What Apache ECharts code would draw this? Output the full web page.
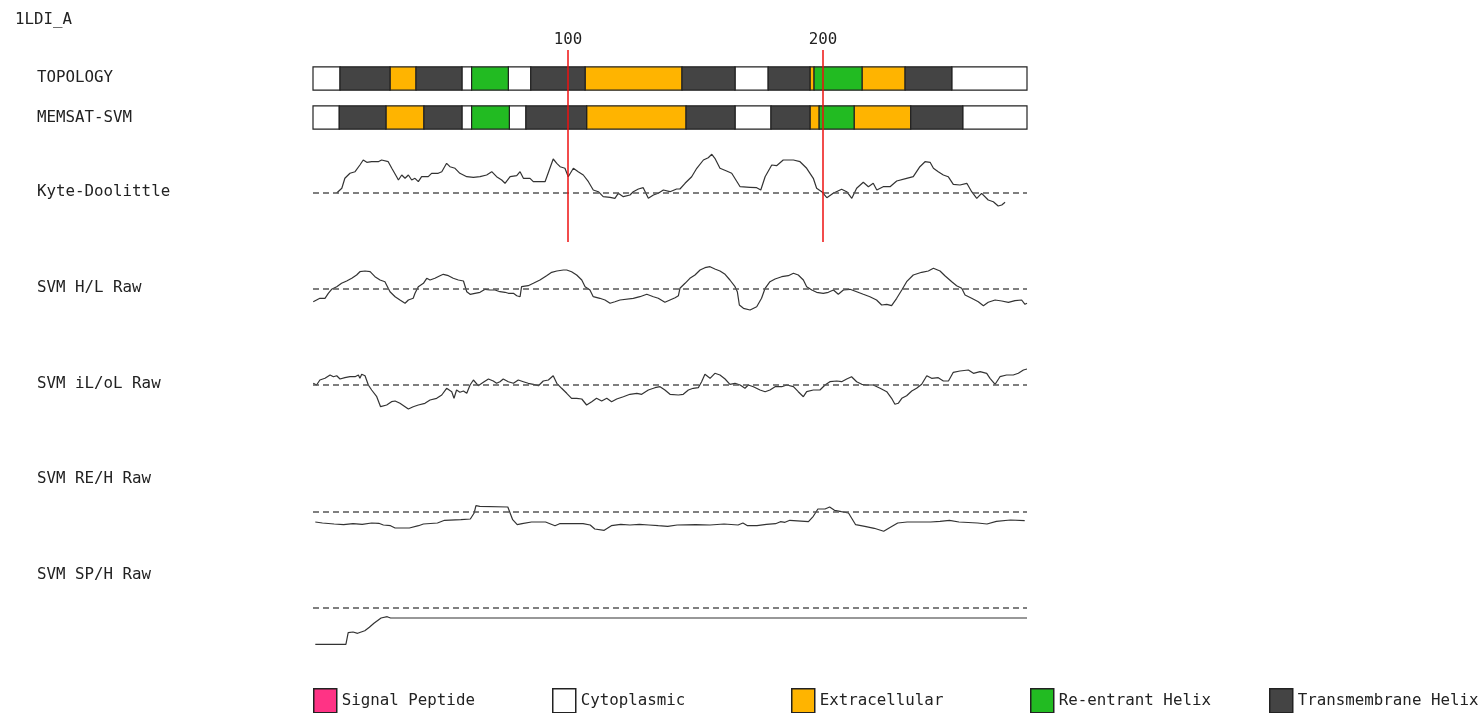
<!DOCTYPE html>
<html>
<head>
<meta charset="utf-8">
<script src="https://cdn.jsdelivr.net/npm/echarts@6/dist/echarts.min.js"></script>
<style>
  html, body { margin: 0; padding: 0; background: #fff; }
  #chart { width: 1484px; height: 713px; }
</style>
</head>
<body>
<div id="chart"></div>
<script>
const chainName = '1LDI_A'
const seqLength = 280
const rulerTicks = [100, 200]
const rowNames = ['TOPOLOGY', 'MEMSAT-SVM']
const trackNames = ['Kyte-Doolittle', 'SVM H/L Raw', 'SVM iL/oL Raw', 'SVM RE/H Raw', 'SVM SP/H Raw']

// segment classes: S signal peptide, C cytoplasmic, E extracellular, R re-entrant, T transmembrane
const classNames = {S: 'Signal Peptide', C: 'Cytoplasmic', E: 'Extracellular', R: 'Re-entrant Helix', T: 'Transmembrane Helix'}
const classColors = {S: '#ff3385', C: '#ffffff', E: '#ffb400', R: '#22bb22', T: '#444444'}

// [start, end, class]
const topology = [
  [0, 10.6, 'C'], [10.6, 30.2, 'T'], [30.2, 40.4, 'E'], [40.4, 58.4, 'T'], [58.4, 62.2, 'C'],
  [62.2, 76.6, 'R'], [76.6, 85.4, 'C'], [85.4, 106.7, 'T'], [106.7, 144.7, 'E'], [144.7, 165.5, 'T'],
  [165.5, 178.5, 'C'], [178.5, 194.9, 'T'], [194.9, 196.5, 'E'], [196.5, 215.3, 'R'], [215.3, 232.2, 'E'],
  [232.2, 250.5, 'T'], [250.5, 280, 'C']
]
const memsat = [
  [0, 10.3, 'C'], [10.3, 28.6, 'T'], [28.6, 43.5, 'E'], [43.5, 58.4, 'T'], [58.4, 62.2, 'C'],
  [62.2, 77, 'R'], [77, 83.5, 'C'], [83.5, 107.3, 'T'], [107.3, 146.3, 'E'], [146.3, 165.5, 'T'],
  [165.5, 179.6, 'C'], [179.6, 194.9, 'T'], [194.9, 198.5, 'E'], [198.5, 212.2, 'R'], [212.2, 234.4, 'E'],
  [234.4, 254.8, 'T'], [254.8, 280, 'C']
]

// [residue, score]
const kyteDoolittle = [
  [9.3,0],[11.3,0.47],[12.5,1.47],[14.5,1.97],[16.5,2.13],[18.4,2.8],[19.7,3.3],[21.1,3.07],[23,3.13],[25.6,3.13],
  [26.9,3.3],[29.5,3.13],[30.9,2.47],[32.8,1.63],[33.5,1.3],[34.8,1.8],[36.1,1.47],[37.4,1.8],[38.7,1.3],[40,1.47],
  [41.3,1.13],[42.6,1.63],[45.2,1.63],[46.5,1.97],[49.1,1.97],[50.5,2.13],[52.4,2.97],[53.7,2.63],[55.7,2.47],[57.6,1.97],
  [60.3,1.63],[62.9,1.57],[65.5,1.63],[68.1,1.8],[70.1,2.13],[72,1.63],[74,1.3],[75.3,0.97],[77.3,1.63],[79.9,1.73],
  [81.2,2.13],[82.5,1.47],[85.1,1.47],[86.4,1.13],[89,1.13],[91,1.13],[92.9,2.47],[94.2,3.4],[95.6,2.97],[96.9,2.63],
  [98.8,2.47],[100.1,1.63],[102.1,2.47],[104,2.13],[106,1.8],[108,1.13],[109.9,0.3],[111.9,0.13],[113.8,-0.37],[116.5,-0.43],
  [118.4,-0.53],[119.7,-0.03],[121.7,-0.37],[124.3,-0.2],[125.6,0.13],[127.6,0.4],[129.5,0.53],[131.5,-0.53],[133.5,-0.2],[135.4,-0.03],
  [137.4,0.3],[140,0.13],[142.6,0.4],[143.9,0.4],[145.9,0.97],[148.5,1.63],[150.5,2.47],[153.1,3.3],[155,3.53],[156.4,3.87],
  [157.6,3.47],[159.6,2.47],[162.2,2.2],[164.2,1.97],[167.5,0.63],[171.4,0.57],[174,0.53],[175.6,0.3],[177.3,1.63],[179.9,2.8],
  [181.8,2.73],[184.4,3.3],[188.4,3.3],[191,3.13],[193.6,2.47],[196.2,1.47],[197.5,0.47],[199.5,0.13],[201.5,-0.47],[204,-0.03],
  [207.3,0.37],[209.3,0.13],[211.3,-0.53],[213.2,0.47],[215.8,1.07],[217.8,0.63],[219.7,0.97],[221.1,0.3],[223.6,0.63],[226.3,0.63],
  [228.9,1.2],[232.8,1.47],[235.4,1.63],[238,2.63],[240,3.13],[242,3.07],[243.3,2.47],[245.2,2.13],[247.2,1.8],[249.1,1.63],
  [251.1,0.87],[253.7,0.8],[256.4,0.97],[258.3,0.13],[260.3,-0.53],[262.2,-0.03],[264.8,-0.7],[266.8,-0.87],[268.7,-1.3],[270.1,-1.2],
  [271.4,-0.93]
]
const svmHL = [
  [0.1,-1.27],[1.4,-1.1],[2.7,-0.93],[4.7,-0.93],[6,-0.43],[7.3,-0.03],[9.3,0.23],[11.2,0.57],[13.2,0.8],[15.2,1.07],
  [17.1,1.4],[18.4,1.73],[20.4,1.8],[22.4,1.73],[24.3,1.23],[26.3,0.9],[28.2,0.73],[29.5,0.07],[30.2,-0.27],[32.2,-0.77],
  [34.1,-1.1],[36.1,-1.43],[37.4,-1.1],[39.3,-0.93],[40,-0.43],[41.3,0.23],[43.3,0.57],[44.6,1.07],[45.9,0.9],[47.8,1.07],
  [49.8,1.33],[51.1,1.47],[53.1,1.33],[55,1.07],[57,0.9],[59,0.8],[60.3,-0.27],[61.6,-0.53],[63.5,-0.43],[65.5,-0.33],
  [67.5,-0.03],[69.4,-0.1],[71.4,-0.1],[73.3,-0.27],[75.3,-0.33],[76.6,-0.43],[78.6,-0.43],[79.9,-0.67],[81.2,-0.77],[81.8,0.23],
  [84.4,0.33],[86.4,0.57],[89,0.9],[91.6,1.33],[93.6,1.67],[95.6,1.8],[98.2,1.9],[99.5,1.9],[101.4,1.73],[103.4,1.4],
  [105.4,0.9],[106.7,0.23],[108.6,-0.1],[109.9,-0.77],[112.5,-0.93],[114.5,-1.1],[116.5,-1.43],[118.4,-1.27],[120.4,-1.1],[125.6,-0.93],
  [128.2,-0.77],[130.9,-0.53],[133.5,-0.77],[135.4,-0.93],[138,-1.33],[140,-1.1],[142,-0.87],[143.3,-0.67],[143.9,0.07],[145.9,0.57],
  [147.8,1.07],[149.8,1.4],[151.8,1.9],[153.7,2.13],[155.7,2.23],[157.6,2],[159.6,1.8],[161.6,1.47],[163.5,0.9],[165.5,0.23],
  [166.4,-0.27],[167.2,-1.6],[168.8,-1.93],[171.4,-2.1],[174,-1.77],[175.9,-0.93],[177.3,0.07],[179.2,0.73],[181.2,1],[183.8,1.23],
  [186.4,1.33],[188.4,1.57],[190.3,1.4],[192.3,0.9],[193.6,0.23],[195.6,-0.1],[197.5,-0.33],[200.1,-0.43],[202.1,-0.33],[204.1,-0.1],
  [206,-0.53],[208,-0.1],[210.6,-0.03],[213.2,-0.27],[215.8,-0.53],[218.4,-0.77],[221,-1.1],[223,-1.6],[225,-1.53],[226.9,-1.67],
  [228.9,-0.93],[230.9,-0.1],[232.8,0.73],[235.4,1.4],[238.7,1.67],[241.3,1.8],[243.3,2.07],[245.9,1.8],[247.8,1.33],[250.5,0.73],
  [252.4,0.33],[254.4,0.07],[255.7,-0.6],[258.3,-0.93],[260.9,-1.27],[262.9,-1.67],[264.8,-1.33],[267.5,-1.1],[270.1,-1.2],[272.7,-1.33],
  [275.3,-1.17],[277.9,-1.1],[279.2,-1.53],[280,-1.43]
]
const svmILOL = [
  [0.1,0.17],[1.4,0],[2.7,0.5],[4.7,0.67],[6.7,1],[8,0.83],[9.3,0.93],[10.6,0.6],[12.5,0.73],[14.5,0.83],
  [16.5,0.83],[17.8,1],[18.4,0.67],[19.1,1.07],[20.4,0.93],[21.7,0],[23,-0.5],[25,-1.17],[26.5,-2.17],[28.9,-2],
  [30.8,-1.67],[32.2,-1.6],[34.1,-1.83],[36.1,-2.17],[37.4,-2.4],[39.3,-2.17],[41.3,-2],[43.9,-1.83],[45.9,-1.5],[48.5,-1.33],
  [50.5,-1],[52.4,-0.33],[54.4,-0.67],[55.3,-1.33],[56.3,-0.5],[57.6,-0.73],[59,-0.6],[60.3,-0.83],[61.6,0],[62.9,0.5],
  [64.8,-0.07],[66.8,0.27],[68.8,0.6],[70.7,0.4],[72,0.17],[73.3,0.33],[74.6,0.6],[76.6,0.33],[78.6,0.17],[80.5,0.5],
  [82.5,0.33],[84.4,0.17],[86.4,0.07],[88.4,-0.07],[90.3,0.4],[92.3,0.5],[94.2,0.93],[95.6,0.17],[97.5,-0.33],[99.5,-0.83],
  [101.4,-1.33],[103.4,-1.33],[105.4,-1.4],[107.3,-2],[109.3,-1.67],[111.2,-1.33],[113.2,-1.6],[115.2,-1.33],[117.1,-1.67],[119.1,-1.4],
  [121.7,-1.17],[124.3,-0.93],[127,-0.83],[128.9,-0.93],[131.5,-0.5],[134.1,-0.27],[136.1,-0.17],[138,-0.5],[140,-0.93],[143.3,-1],
  [145.2,-0.93],[147.2,-0.5],[149.1,-0.33],[151.1,-0.27],[152.4,0.33],[153.7,1.07],[155.7,0.67],[157.6,1.17],[159.6,1],[161.6,0.6],
  [163.5,0.07],[165.5,0.17],[167.5,0],[169.4,-0.33],[170.7,0],[172.7,-0.17],[175.3,-0.5],[177.3,-0.67],[179.2,-0.5],[181.2,-0.17],
  [183.8,-0.17],[185.8,0],[188.4,-0.17],[190.3,-0.67],[192.3,-1.17],[193.6,-0.67],[196.2,-0.5],[198.8,-0.5],[200.8,0],[202.7,0.33],
  [205.4,0.4],[207.3,0.33],[209.3,0.6],[211.2,0.83],[213.2,0.33],[215.2,0.07],[217.1,0],[219.7,0],[222.4,-0.33],[225,-0.67],
  [226.9,-1.33],[228.2,-1.93],[229.5,-1.83],[230.9,-1.33],[232.8,-1.07],[234.8,-0.6],[236.7,-0.33],[238.7,0.07],[240.7,0.93],[242.6,0.67],
  [245.2,0.73],[247.2,0.4],[249.2,0.4],[251.1,1.27],[253.7,1.4],[257,1.5],[259,1.17],[261.6,1.33],[264.2,1.17],[265.5,0.67],
  [267.5,0.07],[269.4,0.83],[272,1],[274.6,1],[276.6,1.17],[278.6,1.5],[280,1.6]
]
const svmREH = [
  [0.9,-1],[3.7,-1.1],[8.3,-1.2],[12,-1.27],[15.7,-1.17],[19.3,-1.23],[23,-1.1],[25.8,-1.13],[27.6,-1.3],[30.4,-1.37],
  [32.2,-1.6],[37.8,-1.6],[41.4,-1.37],[43.3,-1.2],[48.8,-1.1],[51.6,-0.83],[58,-0.77],[61.7,-0.7],[63.2,-0.1],[63.9,0.63],
  [65.4,0.57],[76.4,0.5],[78.3,-0.77],[80.1,-1.27],[82,-1.17],[85.7,-1],[91.2,-1],[94.9,-1.37],[96.7,-1.17],[100.4,-1.17],
  [105.9,-1.17],[108.7,-1.3],[110.5,-1.7],[114.2,-1.83],[117,-1.37],[120.7,-1.23],[124.3,-1.3],[128,-1.23],[131.7,-1.3],[135.4,-1.37],
  [139.1,-1.43],[142.8,-1.3],[150.1,-1.27],[155.7,-1.3],[161.2,-1.2],[166.7,-1.3],[168.6,-1.1],[170.4,-1.37],[174.1,-1.37],[177.8,-1.23],
  [181.4,-1.17],[183.3,-0.97],[185.1,-1.03],[187,-0.83],[194.3,-0.97],[196.2,-0.43],[198,0.3],[200.8,0.3],[202.6,0.5],[204.5,0.17],
  [207.2,0.03],[210,-0.1],[212.8,-1.27],[216.4,-1.43],[220.1,-1.63],[223.8,-1.93],[226.6,-1.5],[229.3,-1.1],[233,-1],[242.2,-1],
  [245.9,-0.93],[249.6,-0.83],[253.3,-1],[260.6,-1.1],[264.3,-1.2],[268,-0.93],[273.5,-0.8],[279.1,-0.87]
]
const svmSPH = [
  [0.9,-3.63],[12.9,-3.63],[13.8,-2.47],[15.7,-2.4],[17.5,-2.53],[20.3,-2.27],[22.1,-1.93],[23.9,-1.53],[26.7,-1],[29.1,-0.87],
  [30.4,-1],[280,-1]
]
const trackData = [kyteDoolittle, svmHL, svmILOL, svmREH, svmSPH]

const font = 'DejaVu Sans Mono'
const txt = {fontFamily: font, fontSize: 15.8, fontWeight: 'normal', color: '#222'}

// grid placement: 0 ruler, 1 bars, 2..6 score tracks
const gridTops = [50, 59, 143, 259, 355, 482, 588]
const gridHeights = [192, 78, 100, 60, 60, 60, 60]
const trackRange = [[-5, 5], [-3, 3], [-3, 3], [-3, 3], [-4, 2]]
const labelTops = [70, 110, 184, 280, 376, 471, 567]
const legendStep = 239

const grids = gridTops.map((t, i) => ({left: 313, width: 714, top: t, height: gridHeights[i]}))

const xAxes = grids.map((g, i) => ({
  gridIndex: i, type: 'value', min: 0, max: seqLength,
  show: i === 0,
  position: 'top',
  interval: 100,
  axisLine: {show: false}, axisTick: {show: false}, splitLine: {show: false},
  axisLabel: {...txt, margin: 2, formatter: v => rulerTicks.includes(v) ? String(v) : ''}
}))

const yAxes = [
  {gridIndex: 0, type: 'value', min: 0, max: 1, show: false},
  {gridIndex: 1, type: 'category', data: rowNames, inverse: true, show: false}
].concat(trackRange.map((r, i) => ({gridIndex: i + 2, type: 'value', min: r[0], max: r[1], show: false})))

const renderSegment = (params, api) => {
  const a = api.coord([api.value(0), api.value(2)])
  const b = api.coord([api.value(1), api.value(2)])
  const h = api.size([0, 1])[1] * 0.6
  return {
    type: 'rect',
    shape: {x: a[0], y: a[1] - h / 2, width: b[0] - a[0], height: h},
    style: api.style({stroke: '#222', lineWidth: 1.2})
  }
}

const segSeries = Object.keys(classNames).map(k => ({
  name: classNames[k],
  type: 'custom',
  xAxisIndex: 1, yAxisIndex: 1,
  renderItem: renderSegment,
  itemStyle: {color: classColors[k]},
  encode: {x: [0, 1], y: 2},
  data: topology.filter(s => s[2] === k).map(s => [s[0], s[1], 0])
    .concat(memsat.filter(s => s[2] === k).map(s => [s[0], s[1], 1])),
  z: 2
}))

const trackSeries = trackData.map((d, i) => ({
  type: 'line',
  xAxisIndex: i + 2, yAxisIndex: i + 2,
  data: d,
  showSymbol: false,
  lineStyle: {color: '#333', width: 1.2},
  markLine: {
    silent: true, symbol: 'none', label: {show: false},
    lineStyle: {color: '#555', width: 1.5, type: [6, 4]},
    data: [{yAxis: 0}]
  }
}))

const rulerSeries = {
  type: 'line', xAxisIndex: 0, yAxisIndex: 0, data: [], z: 10,
  markLine: {
    silent: true, symbol: 'none', label: {show: false},
    lineStyle: {color: '#ee1111', width: 1.5, type: 'solid'},
    data: rulerTicks.map(t => ({xAxis: t}))
  }
}

const titles = [{text: chainName, left: 15, top: 12, padding: 0, textStyle: txt}]
  .concat(rowNames.concat(trackNames).map((n, i) => ({text: n, left: 37, top: labelTops[i], padding: 0, textStyle: txt})))

// one legend block per class so that the items sit at an even step
const legends = Object.values(classNames).map((n, i) => ({
  left: 313 + i * legendStep, top: 688, padding: 0,
  itemWidth: 23, itemHeight: 24,
  icon: 'rect',
  selectedMode: false,
  itemStyle: {borderColor: '#222', borderWidth: 1.5},
  textStyle: txt,
  data: [n]
}))

const chart = echarts.init(document.getElementById('chart'))
chart.setOption({
  animation: false,
  backgroundColor: '#fff',
  title: titles,
  grid: grids,
  xAxis: xAxes,
  yAxis: yAxes,
  legend: legends,
  series: segSeries.concat(trackSeries, [rulerSeries])
})
</script>
</body>
</html>
